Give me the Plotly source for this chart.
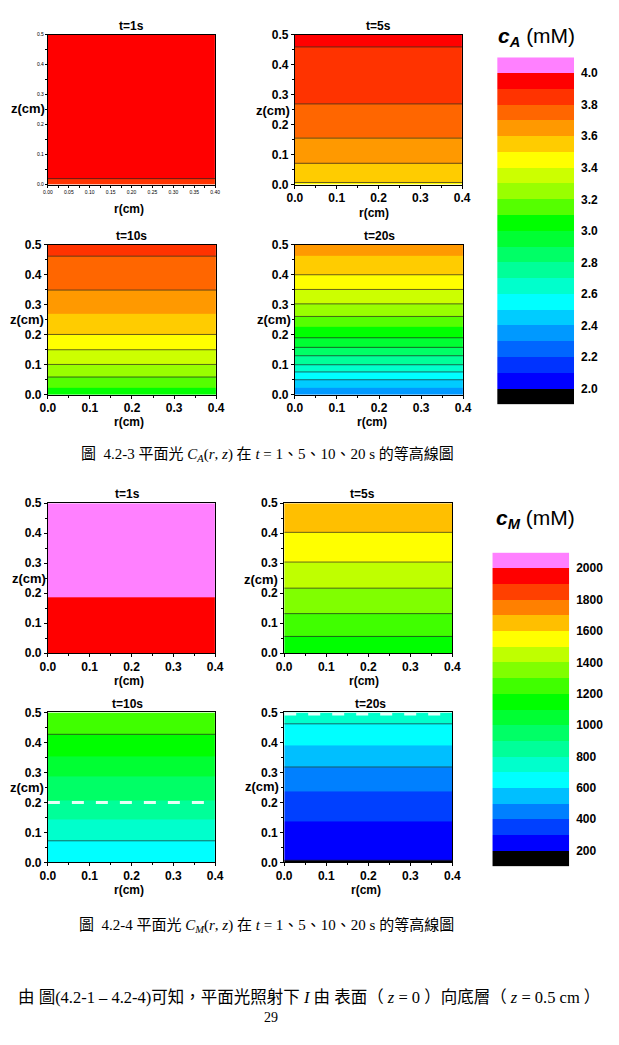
import plotly.graph_objects as go

W, H = 619, 1045

# ---------------- data ----------------
R_EDGES = [0.0, 0.4]

CA_LEVELS = [2.0, 2.1, 2.2, 2.3, 2.4, 2.5, 2.6, 2.7, 2.8, 2.9, 3.0,
             3.1, 3.2, 3.3, 3.4, 3.5, 3.6, 3.7, 3.8, 3.9, 4.0]
CA_COLORS = ["#000000", "#0000FF", "#0033FF", "#0066FF", "#0099FF", "#00CCFF",
             "#00FFFF", "#00FFCC", "#00FF99", "#00FF66", "#00FF33", "#00FF00",
             "#55FF00", "#99FF00", "#CCFF00", "#FFFF00", "#FFCC00", "#FF9900",
             "#FF6600", "#FF3300", "#FF0000", "#FF80FF"]
CA_TICKS = [2.0, 2.2, 2.4, 2.6, 2.8, 3.0, 3.2, 3.4, 3.6, 3.8, 4.0]

CM_LEVELS = [200, 300, 400, 500, 600, 700, 800, 900, 1000, 1100,
             1200, 1300, 1400, 1500, 1600, 1700, 1800, 1900, 2000]
CM_COLORS = ["#000000", "#0000FF", "#0040FF", "#0080FF", "#00BFFF", "#00FFFF",
             "#00FFCC", "#00FF99", "#00FF66", "#00FF33", "#00FF00", "#40FF00",
             "#80FF00", "#BFFF00", "#FFFF00", "#FFBF00", "#FF8000", "#FF4000",
             "#FF0000", "#FF80FF"]
CM_TICKS = [200, 400, 600, 800, 1000, 1200, 1400, 1600, 1800, 2000]

# band edges in z (cm) and band concentrations
CA_T1_Z = [0.0, 0.02, 0.5]
CA_T1_V = [3.85, 3.95]
CA_T1_LINES = [0.02]

CA_T5_Z = [0.0, 0.007, 0.071, 0.155, 0.269, 0.459, 0.5]
CA_T5_V = [3.45, 3.55, 3.65, 3.75, 3.85, 3.95]
CA_T5_LINES = [0.007, 0.071, 0.155, 0.269, 0.459]

CA_T10_Z = [0.0, 0.024, 0.059, 0.101, 0.150, 0.201, 0.270, 0.349, 0.462, 0.5]
CA_T10_V = [3.05, 3.15, 3.25, 3.35, 3.45, 3.55, 3.65, 3.75, 3.85]
CA_T10_LINES = [0.059, 0.101, 0.150, 0.201, 0.349, 0.462]

CA_T20_Z = [0.0, 0.024, 0.050, 0.076, 0.100, 0.130, 0.158, 0.190, 0.227,
            0.261, 0.303, 0.351, 0.400, 0.462, 0.5]
CA_T20_V = [2.35, 2.45, 2.55, 2.65, 2.75, 2.85, 2.95, 3.05, 3.15, 3.25,
            3.35, 3.45, 3.55, 3.65]
CA_T20_LINES = [0.050, 0.076, 0.100, 0.130, 0.158, 0.190, 0.261, 0.303, 0.351, 0.400]

CM_T1_Z = [0.0, 0.188, 0.5]
CM_T1_V = [1950, 2050]
CM_T1_LINES = []

CM_T5_Z = [0.0, 0.056, 0.132, 0.217, 0.304, 0.403, 0.5]
CM_T5_V = [1150, 1250, 1350, 1450, 1550, 1650]
CM_T5_LINES = [0.056, 0.132, 0.217, 0.304, 0.403]

CM_T10_Z = [0.0, 0.072, 0.144, 0.205, 0.287, 0.352, 0.427, 0.5]
CM_T10_V = [650, 750, 850, 950, 1050, 1150, 1250]
CM_T10_LINES = [0.072, 0.427]
CM_T10_DASH = [0.2]

CM_T20_Z = [0.0, 0.007, 0.137, 0.236, 0.318, 0.391, 0.462, 0.5]
CM_T20_V = [150, 250, 350, 450, 550, 650, 750]
CM_T20_LINES = [0.007, 0.318, 0.462]
CM_T20_DASH = [0.495]

# ---------------- helpers ----------------
FONT = "Liberation Sans, Arial, sans-serif"
SERIF = "Liberation Serif, Times New Roman, Noto Sans CJK TC, serif"

fig = go.Figure()
layout = {}
annotations = []


def discrete_scale(colors):
    n = len(colors)
    sc = []
    for i, c in enumerate(colors):
        sc.append([i / n, c])
        sc.append([(i + 1) / n, c])
    return sc


def xdom(x0, x1):
    return [x0 / W, x1 / W]


def ydom(y0, y1):
    return [1 - y1 / H, 1 - y0 / H]


def ann(x, y, text, size=12, bold=True, family=FONT, xanchor="center", color="black"):
    annotations.append(dict(
        x=x / W, y=1 - y / H, xref="paper", yref="paper", text=text,
        showarrow=False, xanchor=xanchor, yanchor="middle",
        font=dict(family=family, size=size, color=color,
                  weight="bold" if bold else "normal")))


def axis_names(n):
    s = "" if n == 1 else str(n)
    return "x" + s, "y" + s, "xaxis" + s, "yaxis" + s


def add_panel(n, box, z_edges, vals, lines, levels, colors, title,
              small=False, dashes=None, title_dx=0, zlab=None, rlab=None):
    xa, ya, xk, yk = axis_names(n)
    step = levels[1] - levels[0]
    zmin, zmax = levels[0] - step, levels[-1] + step
    fig.add_trace(go.Heatmap(
        x=R_EDGES, y=z_edges, z=[[v] for v in vals], zmin=zmin, zmax=zmax,
        colorscale=discrete_scale(colors), showscale=False,
        xaxis=xa, yaxis=ya, hoverinfo="skip"))
    if lines:
        lx, ly = [], []
        for zl in lines:
            lx += [R_EDGES[0], R_EDGES[-1], None]
            ly += [zl, zl, None]
        fig.add_trace(go.Scatter(x=lx, y=ly, mode="lines", xaxis=xa, yaxis=ya,
                                 line=dict(color="rgba(30,30,30,0.75)", width=0.9),
                                 hoverinfo="skip", showlegend=False))
    if dashes:
        lx, ly = [], []
        for zl in dashes:
            lx += [R_EDGES[0], R_EDGES[-1], None]
            ly += [zl, zl, None]
        fig.add_trace(go.Scatter(x=lx, y=ly, mode="lines", xaxis=xa, yaxis=ya,
                                 line=dict(color="rgba(255,255,255,0.9)", width=3,
                                           dash="12px,12px"),
                                 hoverinfo="skip", showlegend=False))
    x0, y0, x1, y1 = box
    tf = dict(family=FONT, size=5 if small else 12, color="black",
              weight="normal" if small else "bold")
    common = dict(showgrid=False, zeroline=False, showline=True, linecolor="black",
                  linewidth=1, mirror=True, ticks="outside",
                  ticklen=2 if small else 3, tickwidth=1, tickcolor="black",
                  tickfont=tf, fixedrange=True)
    layout[xk] = dict(domain=xdom(x0, x1), range=[0, 0.4], anchor=ya,
                      tickmode="array",
                      tickvals=[0.0, 0.05, 0.1, 0.15, 0.2, 0.25, 0.3, 0.35, 0.4] if small
                      else [0.0, 0.1, 0.2, 0.3, 0.4],
                      tickformat=".2f" if small else ".1f",
                      ticklabelstandoff=0 if small else -1,
                      minor=dict(ticks="outside", ticklen=2, dtick=0.05 if not small else 0.025,
                                 tickcolor="black"),
                      **common)
    layout[yk] = dict(domain=ydom(y0, y1), range=[0, 0.5], anchor=xa,
                      tickmode="array", tickvals=[0.0, 0.1, 0.2, 0.3, 0.4, 0.5],
                      tickformat=".1f",
                      minor=dict(ticks="outside", ticklen=2, dtick=0.05, tickcolor="black"),
                      **common)
    ann((x0 + x1) / 2 + title_dx, y0 - 9, title, size=12)
    if zlab:
        ann(zlab[0], zlab[1], "z(cm)", size=13)
    if rlab:
        ann(rlab[0], rlab[1], "r(cm)", size=12)


def add_colorbar(n, box, levels, colors, ticks, fmt):
    xa, ya, xk, yk = axis_names(n)
    step = levels[1] - levels[0]
    edges = [levels[0] - step] + list(levels) + [levels[-1] + step]
    mids = [(edges[i] + edges[i + 1]) / 2 for i in range(len(edges) - 1)]
    fig.add_trace(go.Heatmap(
        x=[0, 1], y=edges, z=[[m] for m in mids], zmin=edges[0], zmax=edges[-1],
        colorscale=discrete_scale(colors), showscale=False,
        xaxis=xa, yaxis=ya, hoverinfo="skip"))
    x0, y0, x1, y1 = box
    layout[xk] = dict(domain=xdom(x0, x1), range=[0, 1], anchor=ya, visible=False,
                      fixedrange=True)
    layout[yk] = dict(domain=ydom(y0, y1), range=[edges[0], edges[-1]], anchor=xa,
                      side="right", showgrid=False, zeroline=False, showline=False,
                      ticks="", tickmode="array", tickvals=ticks, tickformat=fmt,
                      ticklabelstandoff=6,
                      tickfont=dict(family=FONT, size=12, color="black", weight="bold"),
                      fixedrange=True)


# ---------------- C_A panels ----------------
add_panel(1, (41, 28, 213, 180), CA_T1_Z, CA_T1_V, CA_T1_LINES, CA_LEVELS, CA_COLORS,
          "t=1s", small=True, zlab=(21, 103), rlab=(124, 205))
add_panel(2, (295, 28, 467, 180), CA_T5_Z, CA_T5_V, CA_T5_LINES, CA_LEVELS, CA_COLORS,
          "t=5s", zlab=(272, 105), rlab=(376, 209))
add_panel(3, (41, 241, 214, 393), CA_T10_Z, CA_T10_V, CA_T10_LINES, CA_LEVELS, CA_COLORS,
          "t=10s", zlab=(20, 317), rlab=(124, 421))
add_panel(4, (295, 241, 468, 393), CA_T20_Z, CA_T20_V, CA_T20_LINES, CA_LEVELS, CA_COLORS,
          "t=20s", zlab=(273, 317), rlab=(374, 421))

# ---------------- C_M panels ----------------
add_panel(5, (41, 503, 213, 655), CM_T1_Z, CM_T1_V, CM_T1_LINES, CM_LEVELS, CM_COLORS,
          "t=1s", title_dx=-4, zlab=(22, 579), rlab=(124, 683))
add_panel(6, (284, 503, 457, 655), CM_T5_Z, CM_T5_V, CM_T5_LINES, CM_LEVELS, CM_COLORS,
          "t=5s", title_dx=-6, zlab=(260, 580), rlab=(366, 683))
add_panel(7, (41, 715, 213, 867), CM_T10_Z, CM_T10_V, CM_T10_LINES, CM_LEVELS, CM_COLORS,
          "t=10s", title_dx=-4, zlab=(20, 791), rlab=(124, 895), dashes=CM_T10_DASH)
add_panel(8, (284, 715, 457, 867), CM_T20_Z, CM_T20_V, CM_T20_LINES, CM_LEVELS, CM_COLORS,
          "t=20s", title_dx=2, zlab=(261, 790), rlab=(368, 895), dashes=CM_T20_DASH)

# ---------------- colour bars ----------------
add_colorbar(9, (503, 51, 582, 403), CA_LEVELS, CA_COLORS, CA_TICKS, ".1f")
add_colorbar(10, (498, 553, 577, 871), CM_LEVELS, CM_COLORS, CM_TICKS, "d")

ann(502, 30, "<b><i>c</i></b><sub><b><i>A</i></b></sub> (mM)", size=21, bold=False,
    xanchor="left")
ann(500, 519, "<b><i>c</i></b><sub><b><i>M</i></b></sub> (mM)", size=21, bold=False,
    xanchor="left")

# ---------------- captions / page text ----------------
ann(267, 454, "圖  4.2-3 平面光 <i>C</i><sub><i>A</i></sub>(<i>r</i>, <i>z</i>) 在 <i>t</i> = 1、5、10、20 s 的等高線圖",
    size=15, bold=False, family=SERIF)
ann(266, 931, "圖  4.2-4 平面光 <i>C</i><sub><i>M</i></sub>(<i>r</i>, <i>z</i>) 在 <i>t</i> = 1、5、10、20 s 的等高線圖",
    size=15, bold=False, family=SERIF)
ann(310, 1004, "由 圖(4.2-1 – 4.2-4)可知，平面光照射下 <i>I</i> 由 表面（ <i>z</i> = 0 ）向底層（ <i>z</i> = 0.5 cm ）",
    size=16.5, bold=False, family=SERIF, xanchor="center")
ann(270, 1024, "29", size=14, bold=False, family=SERIF)

fig.update_layout(
    width=W, height=H, margin=dict(l=0, r=0, t=0, b=0),
    paper_bgcolor="white", plot_bgcolor="white", showlegend=False,
    annotations=annotations, **layout)

fig.write_html("out.html")
